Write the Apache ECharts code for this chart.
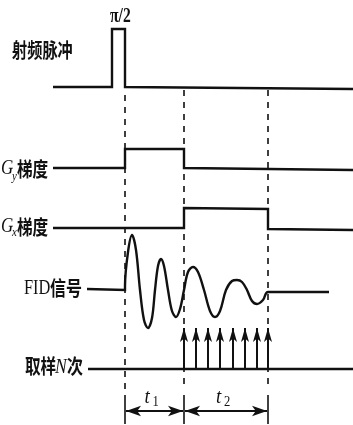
<!DOCTYPE html>
<html><head><meta charset="utf-8">
<script src="https://cdn.jsdelivr.net/npm/echarts@6/dist/echarts.min.js"></script>
<style>html,body{margin:0;padding:0;background:#fff}#c{width:353px;height:425px}</style>
</head><body><div id="c"></div>
<script>
// ---- data (time on x, level on y) ----
const rfPulse    = [[53,87],[112,87],[112,29],[125,29],[125,87],[353,89]];
const gyGradient = [[53,168],[125,168],[125,149],[184,149],[184,168],[353,170]];
const gxGradient = [[53,228],[184,228],[184,208],[268,209],[268,229],[353,230]];
const fidSignal  = [[87,289],[125,290],[125,286],[128,252],[132,235],[136,250],[140,290],[144,320],[148,328],[152,318],[155,290],[158,266],[161,259],[164,266],[168,290],[172,311],[176,317],[180,309],[184,290],[188,272],[193,267],[198,272],[204,290],[210,311],[215,317],[220,311],[226,290],[232,281],[237,280],[242,282],[247,290],[252,301],[257,304],[263,300],[268,292],[329,292]];
const samplingBase = [[88,369],[353,369]];
const sampleTimes  = [184,196,208,220,233,245,257,268];
const markerTimes  = [125,184,268];
const intervals    = [[125,184,'1'],[184,268,'2']];
const channelNames = ['射频脉冲','梯度','梯度','FID','信号','取样','次'];

const chart = echarts.init(document.getElementById('c'), null, {renderer:'canvas'});
const black = '#111';
const lw = 2.4;
function wave(data){
  return {type:'line', data, symbol:'none', silent:true, animation:false,
          lineStyle:{color:black, width:lw, join:'miter'}};
}
const series = [
  wave(rfPulse), wave(gyGradient), wave(gxGradient), wave(samplingBase),
  Object.assign(wave(fidSignal), {smooth:0.35, smoothMonotone:null}),
];
markerTimes.forEach((t,i)=>{
  series.push({type:'line', symbol:'none', animation:false, silent:true,
    data:[[t, i===0?95:90],[t,390]], lineStyle:{color:black,width:1.6,type:[6,6]}});
  series.push({type:'line', symbol:'none', animation:false, silent:true,
    data:[[t,395],[t,424]], lineStyle:{color:black,width:1.6}});
});
series.push({type:'line', data:[], symbol:'none', animation:false, silent:true,
  markLine:{silent:true, animation:false, symbol:['none','arrow'], symbolSize:[6,14], label:{show:false},
    lineStyle:{color:black,width:2,type:'solid'},
    data: sampleTimes.map(t=>[{coord:[t,369]},{coord:[t,328]}])}});
series.push({type:'line', data:[], symbol:'none', animation:false, silent:true,
  markLine:{silent:true, animation:false, symbol:['arrow','arrow'], symbolSize:[8,15], label:{show:false},
    lineStyle:{color:black,width:2,type:'solid'},
    data: intervals.map(iv=>[{coord:[iv[0]+1,411]},{coord:[iv[1]-1,411]}])}});

const cn = '"Noto Sans CJK SC", sans-serif';
const serif = '"Liberation Serif", "DejaVu Serif", serif';
function txt(x,y,text,font,sx){
  return {type:'text', x, y, scaleX:sx||1,
    style:{text, font, fill:black, textVerticalAlign:'middle', textAlign:'left'}};
}
const cnFont = `bold 20px ${cn}`;
const graphics = [
  txt(12,50,channelNames[0],cnFont,0.76),
  txt(1,169,'G',`italic 20px ${serif}`,0.85),
  txt(12,177,'y',`italic 12px ${serif}`,0.9),
  txt(17,169,channelNames[1],cnFont,0.78),
  txt(1,227,'G',`italic 20px ${serif}`,0.85),
  txt(12,233,'x',`italic 12px ${serif}`,0.9),
  txt(17,227,channelNames[2],cnFont,0.78),
  txt(24,288,channelNames[3],`21px ${serif}`,0.78),
  txt(50,288,channelNames[4],cnFont,0.8),
  txt(25,366,channelNames[5],cnFont,0.78),
  txt(55,367,'N',`italic 22px ${serif}`,0.8),
  txt(67,366,channelNames[6],cnFont,0.8),
  txt(110,17,'π/2',`bold 20px ${serif}`,0.78),
];
intervals.forEach(iv=>{
  const cx = (iv[0]+iv[1])/2;
  graphics.push(txt(cx-10,397,'t',`italic 21px ${serif}`,0.9));
  graphics.push(txt(cx-2,402,iv[2],`14px ${serif}`,0.9));
});

chart.setOption({
  animation:false,
  backgroundColor:'#fff',
  grid:{left:0,right:0,top:0,bottom:0},
  xAxis:{type:'value',min:0,max:353,show:false},
  yAxis:{type:'value',min:0,max:425,inverse:true,show:false},
  series,
  graphic:graphics
});
</script></body></html>
